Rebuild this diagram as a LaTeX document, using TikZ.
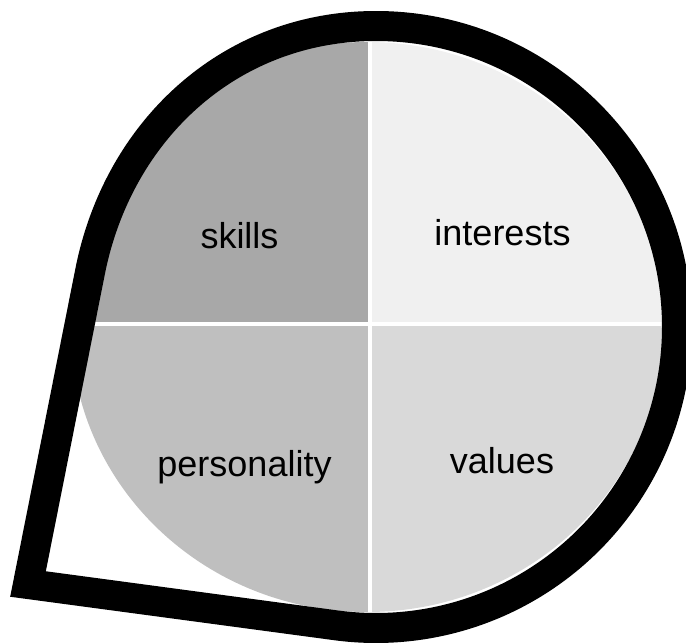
\documentclass[tikz,border=0pt]{standalone}
\usepackage{fontspec}
\setmainfont{Liberation Sans}
\definecolor{skillsgray}{RGB}{168,168,168}
\definecolor{interestsgray}{RGB}{240,240,240}
\definecolor{personalitygray}{RGB}{191,191,191}
\definecolor{valuesgray}{RGB}{217,217,217}
\tikzset{every picture/.style={line width=0.75pt}}
\tikzset{
  bubble/.style={draw=black,line width=22.5pt},
  divider/.style={draw=white,line width=3pt},
  quadlabel/.style={anchor=base,inner sep=0.75pt,font=\fontsize{27}{32}\selectfont},
}

\begin{document}
\begin{tikzpicture}[x=0.75pt,y=0.75pt,yscale=-1,xscale=1]
    \useasboundingbox (0,0) rectangle (686,643);

    %Shape: Ellipse split in quadrants
    \begin{scope}
    \clip (367,327) ellipse [x radius=296, y radius=285];
    \fill[skillsgray] (60,30) rectangle (370,324);
    \fill[interestsgray] (370,30) rectangle (670,324);
    \fill[personalitygray] (60,324) rectangle (370,620);
    \fill[valuesgray] (370,324) rectangle (670,620);
    %Straight Lines
    \draw[divider] (370,30) -- (370,620);
    \draw[divider] (60,324) -- (670,324);
    \end{scope}

    %Shape: Speech bubble
    \draw[bubble] (376,26) arc [start angle=-90, end angle=97.5, radius=301]
        -- (28,584) -- (90,272) .. controls (118,130) and (230,26) .. cycle;

    % Text Node
    \node[quadlabel] (skills) at (239.5,248) {skills};
    % Text Node
    \node[quadlabel] (interests) at (502.5,245) {interests};
    % Text Node
    \node[quadlabel] (personality) at (244.5,476) {personality};
    % Text Node
    \node[quadlabel] (values) at (502,473) {values};

\end{tikzpicture}
\end{document}
